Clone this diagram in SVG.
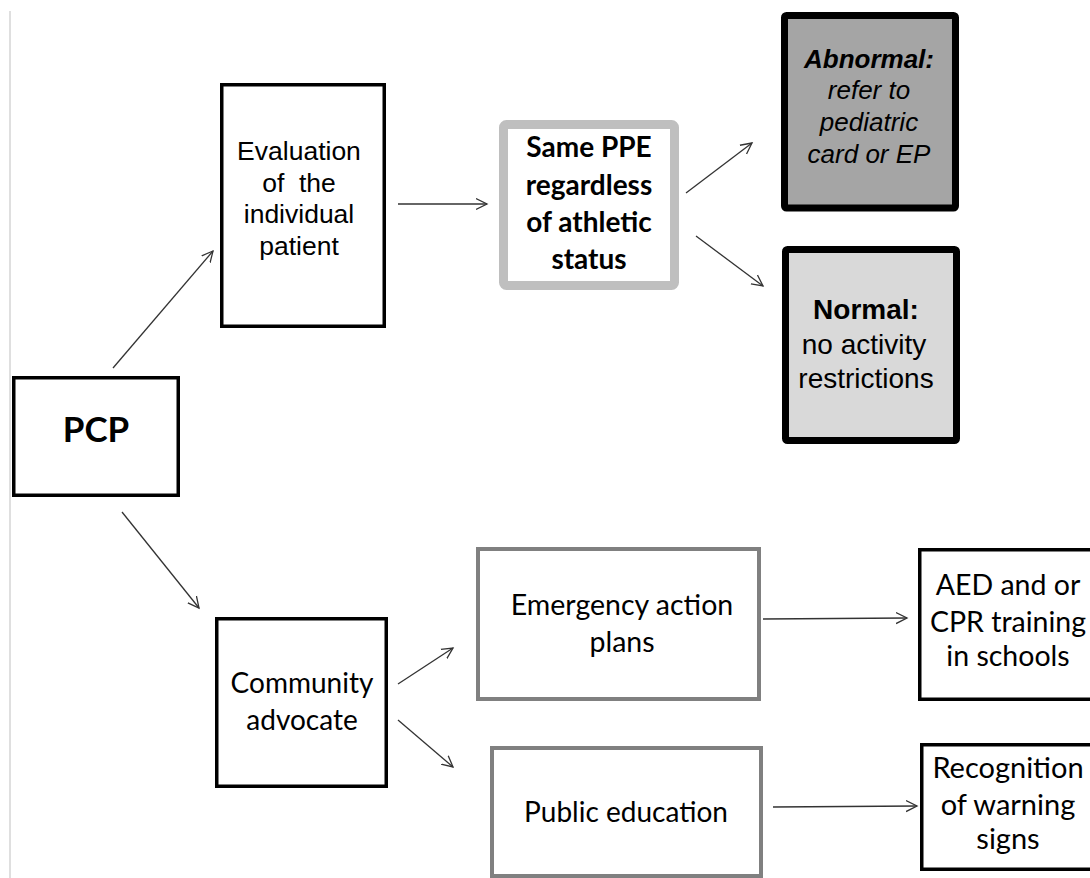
<svg xmlns="http://www.w3.org/2000/svg" width="1090" height="878" viewBox="0 0 1090 878">
<style>
.bx{fill:#fff;stroke:#000;stroke-width:3.5}
.gy{fill:#fff;stroke:#808080;stroke-width:4}
.ar{font-family:"Liberation Sans",Arial,sans-serif;fill:#000;text-anchor:middle}
.cb{font-family:Lato,"Open Sans",sans-serif;fill:#000;text-anchor:middle}
.cn{stroke:#333;stroke-width:1.3;fill:none;marker-end:url(#ah)}
</style>
<defs>
<marker id="ah" markerUnits="userSpaceOnUse" markerWidth="14" markerHeight="14" refX="11" refY="6" orient="auto" viewBox="0 0 14 12">
<path d="M0,0.5 L11,6 L0,11.5" fill="none" stroke="#333" stroke-width="1.3"/>
</marker>
</defs>
<rect width="1090" height="878" fill="#fff"/>
<line x1="10" y1="11" x2="10" y2="878" stroke="#d4d4d4" stroke-width="1.5"/>
<g id="connectors">
<line class="cn" x1="113" y1="368" x2="213" y2="251"/>
<line class="cn" x1="398" y1="204" x2="487" y2="204"/>
<line class="cn" x1="686" y1="193" x2="752" y2="143"/>
<line class="cn" x1="696" y1="236" x2="763" y2="286"/>
<line class="cn" x1="122" y1="512" x2="199" y2="608"/>
<line class="cn" x1="398" y1="684" x2="453" y2="648"/>
<line class="cn" x1="398" y1="720" x2="453" y2="767"/>
<line class="cn" x1="763" y1="619" x2="907" y2="618"/>
<line class="cn" x1="773" y1="807" x2="917" y2="806"/>
</g>
<g id="pcp">
<rect class="bx" x="13.75" y="377.75" width="164.5" height="117.5"/>
<text class="cb" x="96" y="442" font-size="35" font-weight="bold">PCP</text>
</g>
<g id="evaluation">
<rect class="bx" x="221.75" y="84.75" width="162.5" height="241.5"/>
<text class="ar" font-size="26.5" xml:space="preserve"><tspan x="299" y="160">Evaluation</tspan><tspan x="299" y="192">of  the</tspan><tspan x="299" y="223">individual</tspan><tspan x="299" y="255">patient</tspan></text>
</g>
<g id="ppe">
<rect x="503.5" y="124.5" width="171" height="161" rx="3" fill="#fff" stroke="#bfbfbf" stroke-width="9"/>
<text class="cb" font-size="28" font-weight="bold"><tspan x="589" y="157">Same PPE</tspan><tspan x="589" y="195">regardless</tspan><tspan x="589" y="232">of athletic</tspan><tspan x="589" y="269">status</tspan></text>
</g>
<g id="abnormal">
<rect x="784.5" y="15.5" width="171" height="192.5" rx="2" fill="#a5a5a5" stroke="#000" stroke-width="7"/>
<text class="ar" font-size="26" font-style="italic"><tspan x="869" y="68" font-weight="bold">Abnormal:</tspan><tspan x="869" y="99">refer to</tspan><tspan x="869" y="131">pediatric</tspan><tspan x="869" y="163">card or EP</tspan></text>
</g>
<g id="normal">
<rect x="785.5" y="249.5" width="171" height="191" rx="2" fill="#d9d9d9" stroke="#000" stroke-width="7"/>
<text class="ar" font-size="28"><tspan x="866" y="319" font-weight="bold">Normal:</tspan><tspan x="864" y="354">no activity</tspan><tspan x="866" y="388">restrictions</tspan></text>
</g>
<g id="community">
<rect class="bx" x="216.75" y="618.75" width="169.5" height="167.5"/>
<text class="cb" font-size="28"><tspan x="302" y="693">Community</tspan><tspan x="302" y="730">advocate</tspan></text>
</g>
<g id="emergency">
<rect class="gy" x="478" y="549" width="281" height="150"/>
<text class="cb" font-size="28.5"><tspan x="622" y="615">Emergency action</tspan><tspan x="622" y="652">plans</tspan></text>
</g>
<g id="public">
<rect class="gy" x="492" y="748" width="269" height="128"/>
<text class="cb" font-size="28" x="626" y="822">Public education</text>
</g>
<g id="aed">
<rect class="bx" x="919.75" y="549.75" width="200" height="149.5"/>
<text class="cb" font-size="28.5"><tspan x="1008" y="595">AED and or</tspan><tspan x="1008" y="632">CPR training</tspan><tspan x="1008" y="666">in schools</tspan></text>
</g>
<g id="recognition">
<rect class="bx" x="921.75" y="744.75" width="200" height="124.5"/>
<text class="cb" font-size="29"><tspan x="1008" y="778">Recognition</tspan><tspan x="1008" y="815">of warning</tspan><tspan x="1008" y="849">signs</tspan></text>
</g>
</svg>
